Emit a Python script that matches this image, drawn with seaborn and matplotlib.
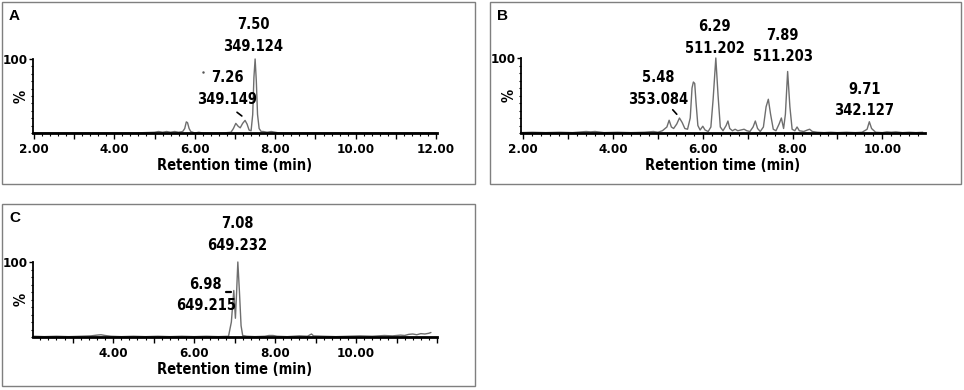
import numpy as np
import pandas as pd
import seaborn as sns
import matplotlib.pyplot as plt
from matplotlib.patches import Rectangle
from matplotlib.ticker import MultipleLocator, FuncFormatter

# Chromatogram traces (retention time in min, relative intensity in %)
a_time = [2.00, 2.50, 3.00, 3.50, 4.00, 4.50, 5.00, 5.10, 5.20, 5.30, 5.40, 5.50, 5.60, 5.70,
          5.75, 5.79, 5.82, 5.86, 5.90, 5.95, 6.00, 6.10, 6.20, 6.30, 6.50, 6.70, 6.90, 6.96,
          7.02, 7.08, 7.13, 7.19, 7.25, 7.30, 7.35, 7.40, 7.44, 7.47, 7.50, 7.53, 7.56, 7.60,
          7.65, 7.70, 7.80, 7.90, 8.00, 8.10, 8.50, 9.00, 10.00, 11.00, 12.00]
a_int = [0, 0, 0, 0, 0, 0, 1, 2, 1, 2, 1, 2, 1, 2,
         6, 15, 14, 6, 2, 1, 0, 1, 0, 0, 0, 0, 1, 6,
         13, 9, 7, 13, 17, 12, 4, 3, 25, 75, 100, 70, 25, 6,
         2, 2, 1, 2, 1, 0, 0, 0, 0, 0, 0]

b_time = [1.95, 2.20, 2.50, 2.80, 3.10, 3.40, 3.50, 3.60, 3.80, 4.10, 4.40, 4.70, 4.90, 5.00,
          5.10, 5.20, 5.25, 5.30, 5.35, 5.42, 5.48, 5.54, 5.60, 5.66, 5.72, 5.76, 5.79, 5.82,
          5.85, 5.89, 5.94, 6.00, 6.05, 6.12, 6.18, 6.23, 6.29, 6.34, 6.39, 6.45, 6.52, 6.56,
          6.60, 6.66, 6.72, 6.78, 6.85, 6.92, 6.98, 7.05, 7.12, 7.17, 7.22, 7.28, 7.35, 7.41,
          7.46, 7.51, 7.57, 7.63, 7.70, 7.75, 7.80, 7.84, 7.89, 7.94, 7.99, 8.05, 8.10, 8.15,
          8.25, 8.33, 8.38, 8.44, 8.55, 8.70, 8.85, 9.00, 9.20, 9.40, 9.55, 9.66, 9.71, 9.76,
          9.85, 10.00, 10.10, 10.20, 10.30, 10.45, 10.60, 10.75, 10.90]
b_int = [0.5, 1, 0.5, 1, 0.5, 2, 1.5, 2, 0.5, 1, 0.5, 1, 2, 1,
         3, 8, 17, 8, 6, 12, 20, 14, 6, 5, 20, 60, 68, 66,
         40, 10, 4, 9, 4, 2, 8, 45, 100, 50, 8, 3, 10, 16,
         6, 3, 5, 3, 4, 5, 3, 2, 8, 16, 6, 2, 8, 35,
         45, 25, 5, 3, 12, 20, 6, 25, 82, 35, 5, 3, 8, 3,
         2, 4, 5, 2, 1, 0.5, 1, 0.5, 1, 0.5, 1, 5, 15, 6,
         1, 0.5, 1.5, 1, 1.5, 0.5, 1, 0.5, 1]

c_time = [2.05, 2.30, 2.60, 2.90, 3.20, 3.45, 3.60, 3.70, 3.80, 3.95, 4.20, 4.50, 4.80, 5.10,
          5.40, 5.70, 6.00, 6.30, 6.60, 6.85, 6.92, 6.98, 7.02, 7.05, 7.08, 7.12, 7.16, 7.20,
          7.30, 7.50, 7.75, 7.85, 7.95, 8.05, 8.30, 8.60, 8.80, 8.90, 8.95, 9.20, 9.50, 9.80,
          10.10, 10.40, 10.70, 10.90, 11.10, 11.20, 11.30, 11.40, 11.50, 11.60, 11.70, 11.80, 11.85]
c_int = [1, 0.5, 1, 0.5, 1, 1.5, 2.5, 3, 2, 1, 0.5, 1, 0.5, 1,
         0.5, 1, 0.5, 1, 0.5, 1, 20, 62, 25, 60, 100, 60, 15, 2,
         1, 0.5, 1, 2, 2, 1, 0.5, 1.5, 1, 4, 1.5, 1, 0.5, 1,
         1.5, 1, 2, 1.5, 2.5, 2, 3.5, 4, 3, 4.5, 4, 5, 6]

# peak labels: (x, y, text) in data units of each panel
a_labels = [(7.45, 132, "7.50\n349.124"), (6.80, 60, "7.26\n349.149")]
b_labels = [(6.27, 127, "6.29\n511.202"), (7.78, 116, "7.89\n511.203"),
            (5.00, 59, "5.48\n353.084"), (9.60, 44, "9.71\n342.127")]
c_labels = [(7.06, 137, "7.08\n649.232"), (6.29, 56, "6.98\n649.215")]

df = pd.concat([
    pd.DataFrame({"panel": "A", "time": a_time, "intensity": a_int}),
    pd.DataFrame({"panel": "B", "time": b_time, "intensity": b_int}),
    pd.DataFrame({"panel": "C", "time": c_time, "intensity": c_int}),
])

sns.set_style("white")
plt.rcParams["font.family"] = ["Liberation Sans Narrow", "DejaVu Sans"]
plt.rcParams["font.stretch"] = "condensed"
for k in ["text.color", "axes.labelcolor", "xtick.color", "ytick.color"]:
    plt.rcParams[k] = "black"

W, H = 964, 390
fig = plt.figure(figsize=(W / 100, H / 100), dpi=100)


def px_axes(x0, x1, top, bottom):
    return fig.add_axes([x0 / W, 1 - bottom / H, (x1 - x0) / W, (bottom - top) / H])


def frame(x0, y0, x1, y1, letter):
    fig.patches.append(Rectangle((x0 / W, 1 - y1 / H), (x1 - x0) / W, (y1 - y0) / H,
                                 transform=fig.transFigure, fill=False,
                                 edgecolor="#7f7f7f", lw=1.0))
    fig.text((x0 + 7) / W, 1 - (y0 + 14) / H, letter, fontsize=11, fontweight="bold",
             family=["Liberation Sans", "DejaVu Sans"], fontstretch="normal",
             va="center", ha="left")


def style_axes(ax, xlim, labelled):
    ax.set_xlim(*xlim)
    ax.set_ylim(0, 100)
    for s in ["top", "right"]:
        ax.spines[s].set_visible(False)
    ax.spines["bottom"].set_linewidth(2.0)
    ax.spines["left"].set_linewidth(1.3)
    ax.spines["bottom"].set_color("black")
    ax.spines["left"].set_color("black")
    ax.xaxis.set_major_locator(MultipleLocator(1))
    ax.xaxis.set_minor_locator(MultipleLocator(0.2))
    ax.xaxis.set_major_formatter(FuncFormatter(
        lambda v, p: f"{v:.2f}" if round(v) in labelled and abs(v - round(v)) < 1e-6 else ""))
    ax.set_yticks([100])
    ax.set_yticklabels(["100"])
    ax.yaxis.set_minor_locator(MultipleLocator(10))
    ax.tick_params(axis="x", which="major", direction="out", length=4, width=1,
                   pad=3, labelsize=9.5, bottom=True)
    ax.tick_params(axis="x", which="minor", direction="out", length=2, width=0.8, bottom=True)
    ax.tick_params(axis="y", which="major", direction="out", length=3, width=1,
                   pad=1, labelsize=9.5, left=True)
    ax.tick_params(axis="y", which="minor", direction="out", length=1.5, width=0.8, left=True)
    for lab in ax.get_xticklabels() + ax.get_yticklabels():
        lab.set_fontweight("bold")
    ax.set_xlabel("Retention time (min)", fontsize=10.5, fontweight="bold", labelpad=2)
    ax.set_ylabel("%", fontsize=10.5, fontweight="bold")
    ax.yaxis.set_label_coords(-0.012, 0.5)
    ax.patch.set_alpha(0)


def annotate(ax, labels):
    for x, y, t in labels:
        ax.text(x, y, t, ha="center", va="center", fontsize=10.5, fontweight="bold",
                linespacing=1.55, clip_on=False)


panels = {
    "A": dict(box=(2, 2, 475, 184), ax=(33, 437, 59, 133), xlim=(1.98, 12.02),
              labelled={2, 4, 6, 8, 10, 12}, labels=a_labels),
    "B": dict(box=(490, 2, 961, 184), ax=(521, 925, 58, 133), xlim=(1.95, 10.95),
              labelled={2, 4, 6, 8, 10}, labels=b_labels),
    "C": dict(box=(2, 204, 475, 386), ax=(33, 437, 262, 337), xlim=(2.02, 12.0),
              labelled={4, 6, 8, 10}, labels=c_labels),
}

axes = {}
for name, p in panels.items():
    frame(*p["box"], name)
    ax = px_axes(*p["ax"])
    sns.lineplot(data=df[df.panel == name], x="time", y="intensity", ax=ax,
                 sort=False, estimator=None, color="#6e6e6e", lw=1.0, clip_on=False)
    style_axes(ax, p["xlim"], p["labelled"])
    annotate(ax, p["labels"])
    axes[name] = ax

# small pointer marks next to labels
axes["A"].plot([7.05, 7.17], [28, 23], color="black", lw=1.2, clip_on=False)
axes["A"].plot([6.21], [82], marker=".", ms=1.5, color="#555555", clip_on=False)
axes["B"].plot([5.33, 5.42], [31, 25], color="black", lw=1.2, clip_on=False)
axes["C"].plot([6.79, 6.91], [60, 60], color="black", lw=1.6, clip_on=False)

plt.savefig("out.png", dpi=100)
